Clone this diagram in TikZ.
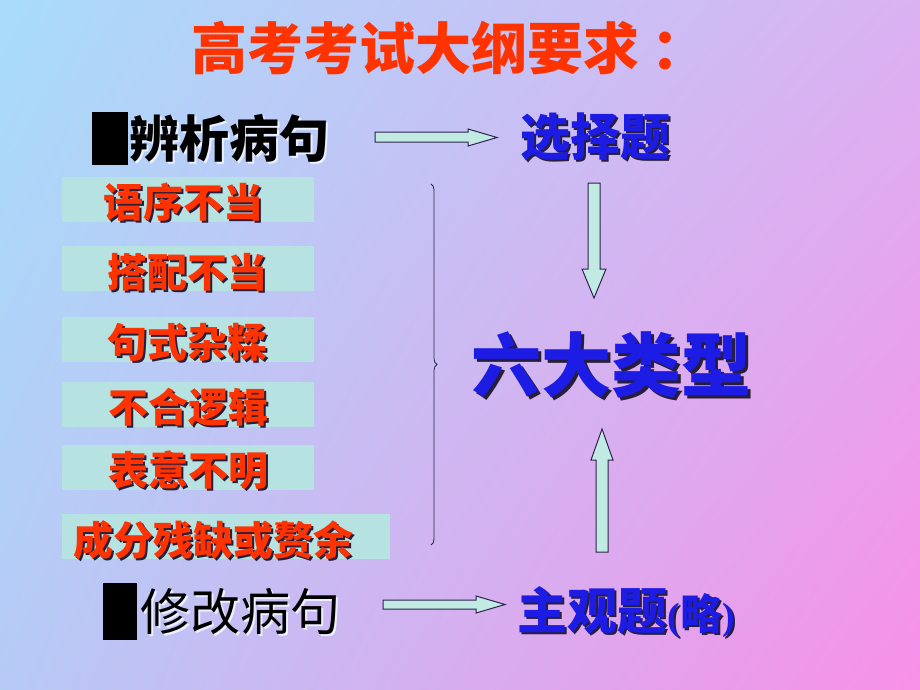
\documentclass[tikz,border=0pt]{standalone}
\usepackage{fontspec}
\setmainfont{Noto Sans CJK SC}
\newfontfamily\serifb{Liberation Serif}
\usetikzlibrary{decorations.pathreplacing,shadings}
\definecolor{bgTL}{RGB}{168,220,250}
\definecolor{bgTR}{RGB}{218,178,242}
\definecolor{bgBL}{RGB}{182,202,246}
\definecolor{bgBR}{RGB}{248,144,232}
\definecolor{redt}{RGB}{255,51,0}
\definecolor{bluet}{RGB}{28,28,228}
\definecolor{boxfill}{RGB}{182,226,226}
\definecolor{arrowfill}{RGB}{192,234,226}
\definecolor{arrowline}{RGB}{45,35,75}
\definecolor{darksh}{RGB}{40,30,60}
\definecolor{lightsh}{RGB}{235,240,255}
\tikzset{
  txt/.style={inner sep=0pt, anchor=center},
  redlbl/.style={txt, text=redt, font=\fontsize{40}{40}\selectfont\bfseries},
  redsh/.style={txt, text=darksh, font=\fontsize{40}{40}\selectfont\bfseries},
  lbox/.style={fill=boxfill, draw=none},
  blockarrow/.style={fill=arrowfill, draw=arrowline, line width=1pt, line join=miter},
}
\begin{document}
\begin{tikzpicture}[x=1pt,y=-1pt]
\useasboundingbox (0,0) rectangle (920,690);
\shade[upper left=bgTL, upper right=bgTR, lower left=bgBL, lower right=bgBR] (0,0) rectangle (920,690);

% title
\node[txt, text=redt, font=\fontsize{56}{56}\selectfont\bfseries, anchor=west] (title) at (191,48) {高考考试大纲要求\kern12pt：};

% top row
\fill[black] (92,112) rectangle (128,165);
\node[txt, text=lightsh, font=\fontsize{50}{50}\selectfont\bfseries] (bxsh) at (231,140) {辨析病句};
\node[txt, text=black, font=\fontsize{50}{50}\selectfont\bfseries] (bx) at (229,138) {辨析病句};
\node[txt, text=darksh, font=\fontsize{50}{50}\selectfont\bfseries] (xzsh) at (597,139) {选择题};
\node[txt, text=bluet, font=\fontsize{50}{50}\selectfont\bfseries] (xz) at (595,137) {选择题};

% horizontal arrow top
\draw[blockarrow] (375,132) -- (468,132) -- (468,129) -- (497,137.5) -- (468,146) -- (468,142) -- (375,142) -- cycle;

% left boxes
\fill[lbox] (62,177) rectangle (314,222);
\fill[lbox] (62,246) rectangle (314,291);
\fill[lbox] (62,317) rectangle (314,362);
\fill[lbox] (62,382) rectangle (314,427);
\fill[lbox] (62,445) rectangle (314,490);
\fill[lbox] (62,514) rectangle (390,559);

\node[redsh] (l1s) at (185,204) {语序不当};
\node[redlbl] (l1) at (183,202) {语序不当};
\node[redsh] (l2s) at (189,274) {搭配不当};
\node[redlbl] (l2) at (187,272) {搭配不当};
\node[redsh] (l3s) at (189,344) {句式杂糅};
\node[redlbl] (l3) at (187,342) {句式杂糅};
\node[redsh] (l4s) at (190,409) {不合逻辑};
\node[redlbl] (l4) at (188,407) {不合逻辑};
\node[redsh] (l5s) at (190,472) {表意不明};
\node[redlbl] (l5) at (188,470) {表意不明};
\node[redsh] (l6s) at (215,542) {成分残缺或赘余};
\node[redlbl] (l6) at (213,540) {成分残缺或赘余};

% brace
\coordinate (bt) at (431,184);
\coordinate (bb) at (431,545);
\draw[arrowline, line width=0.8pt, decorate, decoration={brace, amplitude=6pt}] (bt) -- (bb);

% six types
\node[txt, text=darksh, font=\fontsize{70}{70}\selectfont\bfseries] (lxsh) at (614,368) {六大类型};
\node[txt, text=bluet, font=\fontsize{70}{70}\selectfont\bfseries] (lx) at (611,365) {六大类型};

% down arrow
\draw[blockarrow] (588,183) -- (600,183) -- (600,269) -- (606,269) -- (594,298) -- (582,269) -- (588,269) -- cycle;
% up arrow
\draw[blockarrow] (596,552) -- (608,552) -- (608,460) -- (613,460) -- (602,429) -- (591,460) -- (596,460) -- cycle;

% bottom row
\fill[black] (103,583) rectangle (137,640);
\node[txt, text=lightsh, font=\fontsize{50}{50}\selectfont] (xgsh) at (242,614) {修改病句};
\node[txt, text=black, font=\fontsize{50}{50}\selectfont] (xg) at (240,612) {修改病句};

\draw[blockarrow] (383,600) -- (476,600) -- (476,596) -- (505,604.5) -- (476,613) -- (476,609) -- (383,609) -- cycle;

\node[txt, text=darksh, font=\fontsize{50}{50}\selectfont\bfseries] (zgsh) at (628,614) {主观题{\serifb\fontsize{38}{38}\selectfont(}{\fontsize{42}{42}\selectfont 略}{\serifb\fontsize{38}{38}\selectfont)}};
\node[txt, text=bluet, font=\fontsize{50}{50}\selectfont\bfseries] (zg) at (626,612) {主观题{\serifb\fontsize{38}{38}\selectfont(}{\fontsize{42}{42}\selectfont 略}{\serifb\fontsize{38}{38}\selectfont)}};
\end{tikzpicture}
\end{document}
